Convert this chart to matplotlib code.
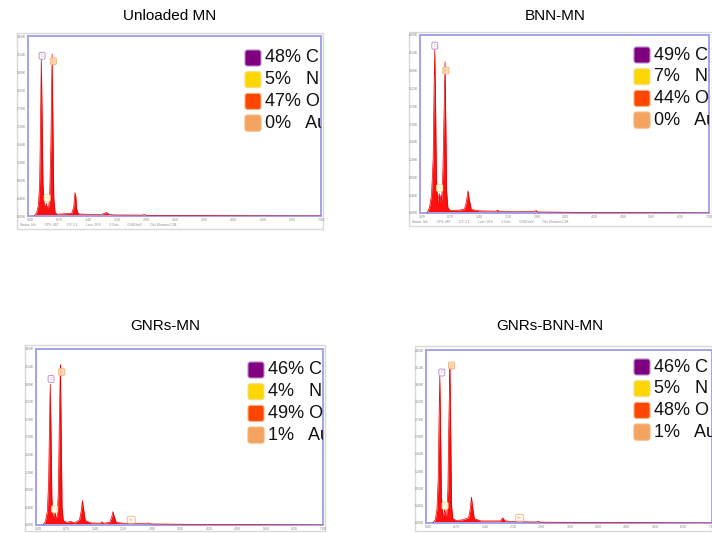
#!/usr/bin/env python3
"""
EDS spectra of the four microneedle formulations, with element percentages
"""

import matplotlib.pyplot as plt
import numpy as np
from matplotlib.patches import FancyBboxPatch, Rectangle

plt.rcParams['font.family'] = ['Liberation Sans', 'DejaVu Sans']

# Data
titles = ["Unloaded MN", "BNN-MN", "GNRs-MN", "GNRs-BNN-MN"]
elements = ["C", "N", "O", "Au"]
elem_colors = ['#800080', '#FFD700', '#FF4500', '#F4A460']
pct_unloaded = [48, 5, 47, 0]
pct_bnn = [49, 7, 44, 0]
pct_gnrs = [46, 4, 49, 1]
pct_gnrs_bnn = [46, 5, 48, 1]

# spectra: energy (keV) and counts (axis units 0-10)
e_unloaded = [0.10, 0.16, 0.20, 0.23, 0.25, 0.27, 0.29, 0.31, 0.34, 0.37, 0.39, 0.41, 0.44,
              0.47, 0.50, 0.52, 0.53, 0.55, 0.57, 0.60, 0.65, 0.80, 1.00, 1.05, 1.08, 1.10,
              1.12, 1.16, 1.30, 1.70, 1.80, 1.84, 1.88, 2.00, 2.70, 2.75, 2.80, 4.00, 7.00]
c_unloaded = [0.0, 0.2, 0.6, 1.8, 5.0, 8.8, 5.5, 1.8, 0.6, 0.5, 0.7, 0.5, 0.4,
              1.0, 4.0, 7.5, 9.0, 5.0, 1.0, 0.2, 0.1, 0.12, 0.15, 0.5, 1.3, 1.1,
              0.4, 0.12, 0.1, 0.08, 0.15, 0.2, 0.12, 0.06, 0.05, 0.08, 0.04, 0.02, 0.0]

e_bnn = [0.12, 0.18, 0.23, 0.27, 0.29, 0.31, 0.33, 0.35, 0.38, 0.40, 0.42, 0.44, 0.46,
         0.48, 0.51, 0.54, 0.56, 0.58, 0.60, 0.63, 0.68, 0.85, 1.03, 1.08, 1.12, 1.15,
         1.20, 1.40, 1.80, 1.84, 1.88, 2.20, 2.74, 2.78, 2.82, 4.0, 7.0]
c_bnn = [0.0, 0.3, 1.0, 3.0, 6.5, 9.2, 6.0, 2.0, 0.6, 0.9, 1.1, 0.6, 1.0,
         0.7, 2.5, 6.0, 8.5, 5.0, 1.2, 0.3, 0.15, 0.15, 0.2, 0.6, 1.25, 0.8,
         0.2, 0.12, 0.1, 0.15, 0.1, 0.07, 0.08, 0.14, 0.06, 0.03, 0.0]

e_gnrs = [0.12, 0.18, 0.23, 0.26, 0.28, 0.30, 0.32, 0.34, 0.37, 0.40, 0.42, 0.44, 0.47,
          0.50, 0.52, 0.54, 0.55, 0.57, 0.59, 0.62, 0.70, 0.80, 0.90, 1.02, 1.06, 1.09,
          1.12, 1.16, 1.30, 1.53, 1.57, 1.61, 1.76, 1.81, 1.84, 1.87, 1.92, 2.10, 2.68,
          2.72, 2.76, 4.0, 7.0]
c_gnrs = [0.0, 0.2, 0.8, 2.5, 5.5, 8.0, 5.0, 1.5, 0.5, 0.4, 0.75, 0.4, 0.5,
          2.0, 5.5, 8.0, 9.1, 5.0, 1.0, 0.25, 0.15, 0.2, 0.12, 0.3, 0.8, 1.38,
          0.9, 0.25, 0.12, 0.1, 0.18, 0.1, 0.15, 0.45, 0.76, 0.5, 0.15, 0.1, 0.07,
          0.12, 0.06, 0.03, 0.0]

e_gnrs_bnn = [0.12, 0.18, 0.22, 0.25, 0.27, 0.29, 0.31, 0.33, 0.36, 0.39, 0.41, 0.43, 0.46,
              0.49, 0.51, 0.53, 0.54, 0.56, 0.58, 0.61, 0.70, 0.85, 1.00, 1.04, 1.07, 1.10,
              1.14, 1.30, 1.78, 1.84, 1.90, 2.10, 2.68, 2.72, 2.76, 4.0, 7.0]
c_gnrs_bnn = [0.0, 0.2, 0.8, 2.5, 5.8, 8.5, 5.2, 1.6, 0.5, 0.45, 0.8, 0.45, 0.5,
              2.0, 5.5, 8.0, 9.0, 5.0, 1.0, 0.25, 0.15, 0.18, 0.3, 0.8, 1.5, 0.9,
              0.25, 0.12, 0.12, 0.3, 0.12, 0.08, 0.06, 0.1, 0.05, 0.03, 0.0]

# peak labels: (element, energy, height)
peaks_unloaded = [("C", 0.29, 8.9), ("O", 0.56, 8.6), ("N", 0.41, 1.0)]
peaks_bnn = [("C", 0.31, 9.4), ("O", 0.58, 8.0), ("N", 0.43, 1.4)]
peaks_gnrs = [("C", 0.32, 8.3), ("O", 0.58, 8.7), ("N", 0.41, 0.9), ("Au", 2.29, 0.3)]
peaks_gnrs_bnn = [("C", 0.34, 8.7), ("O", 0.58, 9.1), ("N", 0.42, 1.0), ("Au", 2.26, 0.3)]

pcts = [pct_unloaded, pct_bnn, pct_gnrs, pct_gnrs_bnn]
spectra = [(e_unloaded, c_unloaded), (e_bnn, c_bnn), (e_gnrs, c_gnrs), (e_gnrs_bnn, c_gnrs_bnn)]
peak_labels = [peaks_unloaded, peaks_bnn, peaks_gnrs, peaks_gnrs_bnn]

# layout in pixels: plot box, outer frame, title centre, legend anchor
boxes = [(28, 36, 321, 216), (420, 35, 709, 213), (36, 349, 323, 525), (426, 350, 712, 523)]
frames = [(17, 33, 323, 229), (409, 32, 712, 226), (25, 345, 325, 531), (415, 346, 712, 531)]
title_pos = [(170, 16), (555, 16), (165, 326), (550, 326)]
legend_pos = [(245, 58), (634, 55), (248, 370), (634, 367)]
row_gap = 21.7
sq = 16

W, H = 712, 533
fig = plt.figure(figsize=(W / 100, H / 100), dpi=100)
inch = fig.dpi_scale_trans

light = {'C': '#b98ad0', 'N': '#f0e08a', 'O': '#f3b27a', 'Au': '#f3b27a'}

for i in range(4):
    x0, y0, x1, y1 = boxes[i]
    fx0, fy0, fx1, fy1 = frames[i]

    # grey outer frame of the screenshot
    fig.add_artist(Rectangle((fx0 / 100, (H - fy1) / 100), (fx1 - fx0) / 100, (fy1 - fy0) / 100,
                             transform=inch, fc='white', ec='#d9d9d9', lw=1.0, zorder=0))

    ax = fig.add_axes([x0 / W, 1 - y1 / H, (x1 - x0) / W, (y1 - y0) / H])
    e, c = spectra[i]
    ax.fill_between(e, c, 0, color='#ff1010', lw=0, zorder=2)
    ax.plot(e, c, color='#e60000', lw=0.5, zorder=3)
    ax.set_xlim(-0.05, 7.0)
    ax.set_ylim(0, 10)
    for s in ax.spines.values():
        s.set_color('#a3a3ec')
        s.set_linewidth(1.4)
    ax.set_xticks(np.arange(0, 7.01, 0.7))
    ax.set_xticklabels([f'{v:.2f}' for v in np.arange(0, 7.01, 0.7)])
    ax.set_yticks(np.arange(0, 10.1, 1))
    ax.set_yticklabels([f'{v * 0.46:.2f}K' for v in np.arange(0, 10.1, 1)])
    ax.tick_params(length=0, pad=1.5, labelsize=2.5, labelcolor='#888888')

    # peak identification boxes
    for el, pe, ph in peak_labels[i]:
        ax.text(pe, ph, el, fontsize=3, color=light[el], ha='center', va='center', zorder=4,
                bbox=dict(boxstyle='round,pad=0.35', fc='white' if el != 'O' else '#fbd9bd',
                          ec=light[el], lw=0.7, alpha=0.9))

    # title
    tx, ty = title_pos[i]
    fig.text(tx / W, 1 - ty / H, titles[i], fontsize=11, ha='center', va='center')

    # element legend, clipped by the plot box
    lx, ly = legend_pos[i]
    for k, el in enumerate(elements):
        cy = ly + k * row_gap
        fig.add_artist(FancyBboxPatch((lx / 100, (H - cy - sq / 2) / 100), sq / 100, sq / 100,
                                      boxstyle='round,pad=0,rounding_size=0.025', transform=inch,
                                      fc=elem_colors[k], ec=light[el], lw=0.8, zorder=5))
        gap = ' ' if pcts[i][k] >= 10 else '   '
        ax.text((lx + sq + 4) / 100, (H - cy) / 100, f'{pcts[i][k]}%{gap}{el}',
                transform=inch, fontsize=13, ha='left', va='center', color='#111111',
                zorder=6, clip_on=True)

    # status bar of the software (first row only)
    if i < 2:
        fig.text((fx0 + 3) / W, 1 - (fy1 - 4) / H,
                 'Status: Idle          CPS: 487          DT: 3.1          Lsec: 30.0          '
                 '0 Cnts          0.000 keV          Det: Element-C2B',
                 fontsize=2.3, color='#888888', ha='left', va='center')

plt.savefig('out.png', dpi=100)
